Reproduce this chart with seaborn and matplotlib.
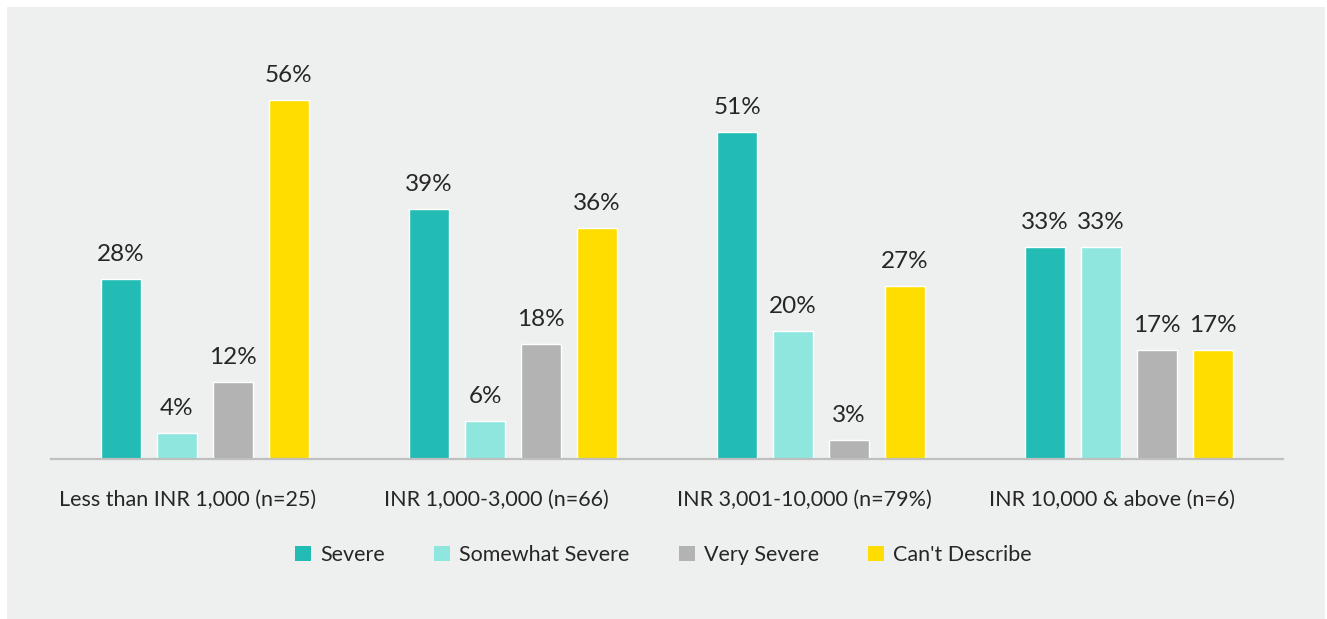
import pandas as pd
import matplotlib.pyplot as plt
import seaborn as sns
from matplotlib.patches import Rectangle
from matplotlib.transforms import ScaledTranslation


groups = [
    "Less than INR 1,000 (n=25)",
    "INR 1,000-3,000 (n=66)",
    "INR 3,001-10,000 (n=79%)",
    "INR 10,000 & above (n=6)",
]
severity = ["Severe", "Somewhat Severe", "Very Severe", "Can't Describe"]

severe = [28, 39, 51, 33]
somewhat_severe = [4, 6, 20, 33]
very_severe = [12, 18, 3, 17]
cant_describe = [56, 36, 27, 17]

colors = ["#22bcb5", "#8ee6df", "#b3b3b3", "#ffdd00"]

TEXT = "#262626"
BG = "#eef0ef"

rows = []
for name, vals in zip(severity, [severe, somewhat_severe, very_severe, cant_describe]):
    for g, v in zip(groups, vals):
        rows.append({"group": g, "severity": name, "value": v})
df = pd.DataFrame(rows)

sns.set_style("white")
plt.rcParams["font.family"] = ["Lato", "DejaVu Sans"]

fig = plt.figure(figsize=(13.27, 6.19), dpi=100, facecolor="white")
fig.patches.append(
    Rectangle((7 / 1327, 0), 1318 / 1327, 612 / 619,
              transform=fig.transFigure, facecolor=BG, edgecolor="none", zorder=-10)
)

ax = fig.add_axes([51 / 1327, 160 / 619, 1232 / 1327, 417 / 619])
ax.set_facecolor("none")

sns.barplot(
    data=df,
    x="group",
    y="value",
    hue="severity",
    order=groups,
    hue_order=severity,
    palette=colors,
    width=0.727,
    gap=0.30,
    saturation=1,
    errorbar=None,
    legend=True,
    ax=ax,
)

for container in ax.containers:
    ax.bar_label(
        container,
        labels=[f"{v:.0f}%" for v in container.datavalues],
        padding=10,
        fontsize=17.5,
        color=TEXT,
    )

ax.set_xlim(-0.5, 3.5)
ax.set_ylim(0, 65)
ax.set_xlabel("")
ax.set_ylabel("")
ax.set_yticks([])
ax.tick_params(axis="x", length=0, pad=22, labelsize=15.5, labelcolor=TEXT)

# category labels sit a little left of the bar groups in the original
shift = ScaledTranslation(-17 / 100, 0, fig.dpi_scale_trans)
for lbl in ax.get_xticklabels():
    lbl.set_transform(lbl.get_transform() + shift)

for side in ["top", "right", "left"]:
    ax.spines[side].set_visible(False)
ax.spines["bottom"].set_color("#bfbfbf")
ax.spines["bottom"].set_linewidth(1.6)

handles, labels = ax.get_legend_handles_labels()
ax.get_legend().remove()
for h in handles:
    h.set_edgecolor("none")
fig.legend(
    handles,
    labels,
    loc="center",
    bbox_to_anchor=(0.5, 1 - 555 / 619),
    ncol=4,
    frameon=False,
    fontsize=15.5,
    labelcolor=TEXT,
    handlelength=0.75,
    handleheight=0.75,
    handletextpad=0.4,
    columnspacing=2.3,
)

fig.savefig("out.png", dpi=100, facecolor=fig.get_facecolor())
